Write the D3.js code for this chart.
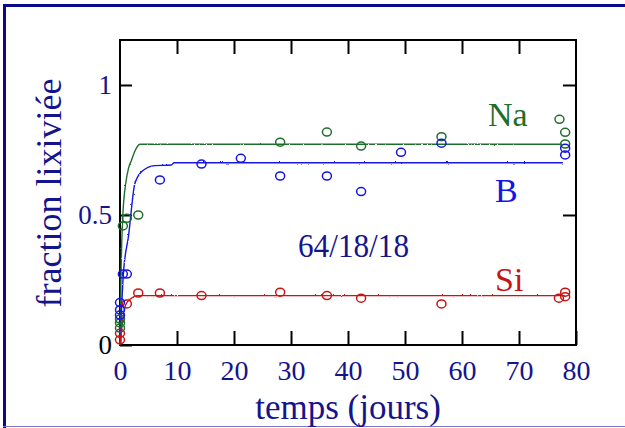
<!DOCTYPE html>
<html><head><meta charset="utf-8">
<script src="https://cdn.jsdelivr.net/npm/d3@7"></script>
<style>
html,body{margin:0;padding:0;background:#fff;}
svg{display:block;}
text{font-family:"Liberation Serif","Times New Roman",serif;}
</style></head>
<body>
<svg id="c" width="625" height="428"></svg>
<script>
// ---- data ----
const xTicks = [0,10,20,30,40,50,60,70,80];
const yTicks = [0,0.5,1];
const yTickLabels = ["0","0.5","1"];

// measured points (time in days, leached fraction)
const naT = [0,0,0,0.5,1.2,3.2,28.1,36.3,42.3,56.4,77.1,78.1,78.1];
const naV = [0.10,0.085,0.065,0.458,0.487,0.50,0.78,0.819,0.765,0.801,0.868,0.818,0.773];
const bT  = [0,0,0,0.5,1.2,7,14.3,21.2,28.1,36.3,42.3,49.3,56.4,78.1,78.1];
const bV  = [0.163,0.135,0.115,0.273,0.273,0.635,0.696,0.718,0.65,0.65,0.59,0.741,0.776,0.757,0.731];
const siT = [0,0,1.2,3.2,7,14.3,28.1,36.3,42.3,56.4,77.0,78.1,78.1];
const siV = [0.045,0.02,0.158,0.20,0.20,0.19,0.203,0.19,0.18,0.158,0.18,0.203,0.186];

// fitted model curves
const naCurveT = [0,0.2,0.5,1,1.5,2,2.6,3.5,77.5];
const naCurveV = [0,0.30,0.50,0.62,0.68,0.71,0.745,0.772,0.772];
const bCurveT  = [0,0.6,1.5,2.6,3.8,6.1,9,9.5,77.7];
const bCurveV  = [0,0.276,0.42,0.62,0.667,0.69,0.692,0.701,0.701];
const siCurveT = [0,0.5,1,2,3,78];
const siCurveV = [0,0.10,0.155,0.18,0.19,0.19];

const seriesNames = ["Na","B","Si"];
const compositionLabel = "64/18/18";
const xTitle = "temps (jours)";
const yTitle = "fraction lixiviée";

// ---- drawing ----
const svg = d3.select("#c");
const L=120, R=576, T=40, B=345;
const x = d3.scaleLinear().domain([0,80]).range([L,R]);
const y = d3.scaleLinear().domain([0,1.173]).range([B,T]);

const green="#1f6e2b", blue="#1414e6", red="#c81414", navy="#14148c";

const defs = svg.append("defs");
const f = defs.append("filter").attr("id","wig").attr("filterUnits","userSpaceOnUse")
  .attr("x",0).attr("y",0).attr("width",625).attr("height",428);
f.append("feTurbulence").attr("type","fractalNoise").attr("baseFrequency","0.7").attr("numOctaves",1).attr("seed",3).attr("result","n");
f.append("feDisplacementMap").attr("in","SourceGraphic").attr("in2","n").attr("scale",2.2)
  .attr("xChannelSelector","R").attr("yChannelSelector","G");

// outer border
svg.append("line").attr("x1",3).attr("x2",625).attr("y1",5.5).attr("y2",5.5).attr("stroke","#0a0a8c").attr("stroke-width",3);
svg.append("line").attr("x1",4.5).attr("x2",4.5).attr("y1",4).attr("y2",428).attr("stroke","#0a0a8c").attr("stroke-width",3);
svg.append("line").attr("x1",3).attr("x2",625).attr("y1",426.5).attr("y2",426.5).attr("stroke","#7878c8").attr("stroke-width",1);

// axes
function styleAxis(g){ g.select(".domain").remove(); g.selectAll(".tick line").attr("stroke","#000").attr("stroke-width",2); }

const xa = svg.append("g").attr("transform",`translate(0,${B})`)
  .call(d3.axisBottom(x).tickValues(xTicks).tickSize(-14).tickPadding(15).tickFormat(d3.format("d")));
styleAxis(xa);
xa.selectAll("text").attr("font-size",28).attr("fill",navy).attr("font-family","Liberation Serif");

const xt = svg.append("g").attr("transform",`translate(0,${T})`)
  .call(d3.axisTop(x).tickValues(xTicks.slice(1,-1)).tickSize(-14).tickFormat(""));
styleAxis(xt);

const ya = svg.append("g").attr("transform",`translate(${L},0)`)
  .call(d3.axisLeft(y).tickValues(yTicks).tickSize(-12).tickPadding(8).tickFormat((d,i)=>yTickLabels[i]));
styleAxis(ya);
ya.selectAll("text").attr("font-size",27).attr("fill",(d)=>d===0?"#000":navy).attr("font-family","Liberation Serif");

const yr = svg.append("g").attr("transform",`translate(${R},0)`)
  .call(d3.axisRight(y).tickValues(yTicks.slice(1)).tickSize(-13).tickFormat(""));
styleAxis(yr);

// frame
svg.append("rect").attr("x",L).attr("y",T).attr("width",R-L).attr("height",B-T)
  .attr("fill","none").attr("stroke","#000").attr("stroke-width",2);

// curves
const line = d3.line().x(d=>x(d[0])).y(d=>y(d[1])).curve(d3.curveMonotoneX);
const curves = [[naCurveT,naCurveV,green],[bCurveT,bCurveV,blue],[siCurveT,siCurveV,red]];
curves.forEach(([t,v,c])=>{
  svg.append("path").datum(t.map((d,i)=>[d,v[i]])).attr("d",line)
    .attr("fill","none").attr("stroke",c).attr("stroke-width",1.4).attr("filter","url(#wig)");
});

// points
const pts = [[siT,siV,red],[naT,naV,green],[bT,bV,blue]];
pts.forEach(([t,v,c])=>{
  svg.append("g").selectAll("ellipse").data(t.map((d,i)=>[d,v[i]])).join("ellipse")
    .attr("cx",d=>x(d[0])).attr("cy",d=>y(d[1])).attr("rx",4.5).attr("ry",4)
    .attr("fill","none").attr("stroke",c).attr("stroke-width",1.5);
});

// labels
svg.append("text").attr("x",488).attr("y",126).attr("font-size",34).attr("fill",green).text(seriesNames[0]);
svg.append("text").attr("x",495).attr("y",202).attr("font-size",34).attr("fill",blue).text(seriesNames[1]);
svg.append("text").attr("x",495).attr("y",291).attr("font-size",34).attr("fill",red).text(seriesNames[2]);
svg.append("text").attr("x",298).attr("y",257).attr("font-size",34).attr("fill",navy)
  .attr("textLength",111).attr("lengthAdjust","spacingAndGlyphs").text(compositionLabel);

// titles
svg.append("text").attr("x",(L+R)/2).attr("y",419).attr("text-anchor","middle").attr("font-size",35).attr("fill",navy).text(xTitle);
svg.append("text").attr("transform","translate(61,193) rotate(-90)").attr("text-anchor","middle").attr("font-size",36).attr("fill",navy).text(yTitle);
</script>
</body></html>
